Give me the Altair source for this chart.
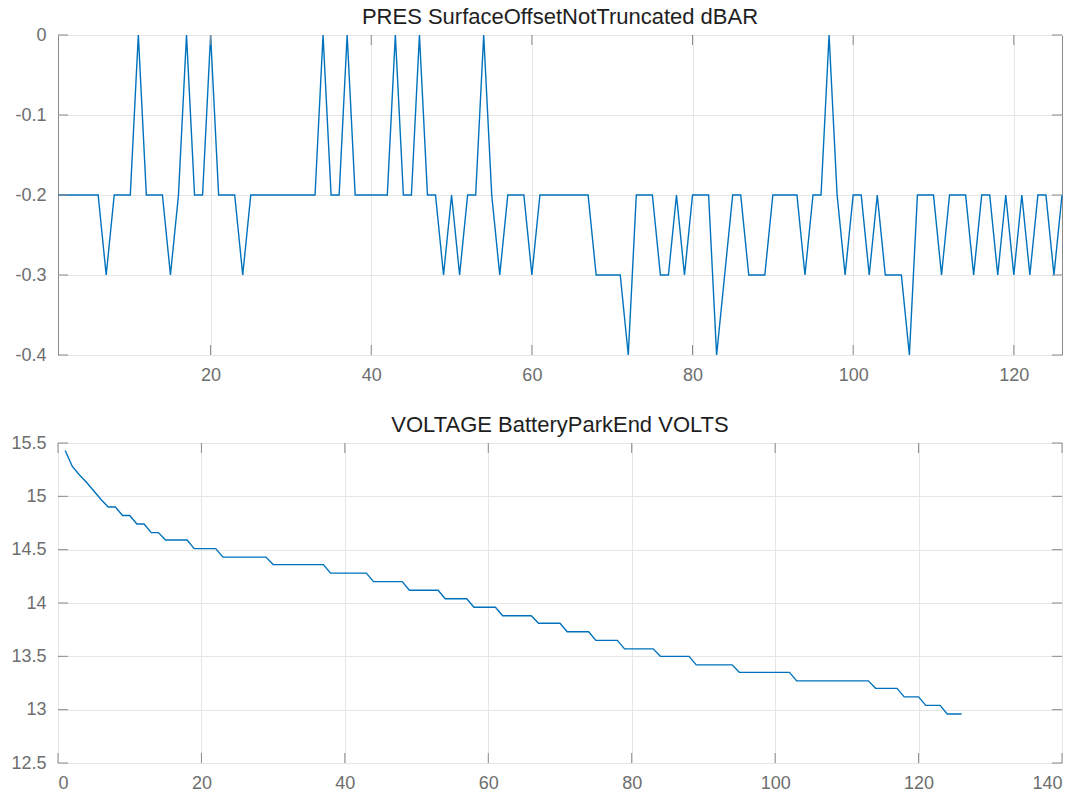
import altair as alt
import pandas as pd

# ---- data ----
pres = [
    -0.2, -0.2, -0.2, -0.2, -0.2, -0.2, -0.3, -0.2, -0.2, -0.2,
    0.0, -0.2, -0.2, -0.2, -0.3, -0.2, 0.0, -0.2, -0.2, 0.0,
    -0.2, -0.2, -0.2, -0.3, -0.2, -0.2, -0.2, -0.2, -0.2, -0.2,
    -0.2, -0.2, -0.2, 0.0, -0.2, -0.2, 0.0, -0.2, -0.2, -0.2,
    -0.2, -0.2, 0.0, -0.2, -0.2, 0.0, -0.2, -0.2, -0.3, -0.2,
    -0.3, -0.2, -0.2, 0.0, -0.2, -0.3, -0.2, -0.2, -0.2, -0.3,
    -0.2, -0.2, -0.2, -0.2, -0.2, -0.2, -0.2, -0.3, -0.3, -0.3,
    -0.3, -0.4, -0.2, -0.2, -0.2, -0.3, -0.3, -0.2, -0.3, -0.2,
    -0.2, -0.2, -0.4, -0.3, -0.2, -0.2, -0.3, -0.3, -0.3, -0.2,
    -0.2, -0.2, -0.2, -0.3, -0.2, -0.2, 0.0, -0.2, -0.3, -0.2,
    -0.2, -0.3, -0.2, -0.3, -0.3, -0.3, -0.4, -0.2, -0.2, -0.2,
    -0.3, -0.2, -0.2, -0.2, -0.3, -0.2, -0.2, -0.3, -0.2, -0.3,
    -0.2, -0.3, -0.2, -0.2, -0.3, -0.2,
]

voltage = [
    15.43, 15.28, 15.20, 15.13, 15.05, 14.97, 14.90, 14.90, 14.82, 14.82,
    14.74, 14.74, 14.66, 14.66, 14.59, 14.59, 14.59, 14.59, 14.51, 14.51,
    14.51, 14.51, 14.43, 14.43, 14.43, 14.43, 14.43, 14.43, 14.43, 14.36,
    14.36, 14.36, 14.36, 14.36, 14.36, 14.36, 14.36, 14.28, 14.28, 14.28,
    14.28, 14.28, 14.28, 14.20, 14.20, 14.20, 14.20, 14.20, 14.12, 14.12,
    14.12, 14.12, 14.12, 14.04, 14.04, 14.04, 14.04, 13.96, 13.96, 13.96,
    13.96, 13.88, 13.88, 13.88, 13.88, 13.88, 13.81, 13.81, 13.81, 13.81,
    13.73, 13.73, 13.73, 13.73, 13.65, 13.65, 13.65, 13.65, 13.57, 13.57,
    13.57, 13.57, 13.57, 13.50, 13.50, 13.50, 13.50, 13.50, 13.42, 13.42,
    13.42, 13.42, 13.42, 13.42, 13.35, 13.35, 13.35, 13.35, 13.35, 13.35,
    13.35, 13.35, 13.27, 13.27, 13.27, 13.27, 13.27, 13.27, 13.27, 13.27,
    13.27, 13.27, 13.27, 13.20, 13.20, 13.20, 13.20, 13.12, 13.12, 13.12,
    13.04, 13.04, 13.04, 12.96, 12.96, 12.96,
]

top_title = "PRES SurfaceOffsetNotTruncated dBAR"
bottom_title = "VOLTAGE BatteryParkEnd VOLTS"

top_xdomain = [1, 126]
top_xticks = [20, 40, 60, 80, 100, 120]
top_ydomain = [-0.4, 0]
top_yticks = [-0.4, -0.3, -0.2, -0.1, 0]

bot_xdomain = [0, 140]
bot_xticks = [0, 20, 40, 60, 80, 100, 120, 140]
bot_ydomain = [12.5, 15.5]
bot_yticks = [12.5, 13, 13.5, 14, 14.5, 15, 15.5]

W, H = 1004, 320
TICK = 10
LINE_COLOR = "#0072BD"
BOX = "#8a8a8a"
FONT = "Liberation Sans"


def panel(yvals, xdom, xt, ydom, yt, title):
    df = pd.DataFrame({"x": list(range(1, len(yvals) + 1)), "y": yvals})
    xs = alt.Scale(domain=xdom, nice=False, zero=False)
    ys = alt.Scale(domain=ydom, nice=False, zero=False)
    xaxis = alt.Axis(values=xt, title=None, labelExpr="'' + datum.value",
                     labelPadding=11, minExtent=30, maxExtent=30)
    yaxis = alt.Axis(values=yt, title=None, labelExpr="'' + datum.value",
                     labelPadding=12, minExtent=48, maxExtent=48)
    line = alt.Chart(df).mark_line(color=LINE_COLOR, strokeWidth=1.4).encode(
        x=alt.X("x:Q", scale=xs, axis=xaxis),
        y=alt.Y("y:Q", scale=ys, axis=yaxis),
    )
    ydf = pd.DataFrame({"y": yt})
    xdf = pd.DataFrame({"x": xt})
    lt = alt.Chart(ydf).mark_rule(color=BOX, strokeWidth=1).encode(
        y=alt.Y("y:Q", scale=ys, axis=yaxis), x=alt.value(0), x2=alt.value(TICK))
    rt = alt.Chart(ydf).mark_rule(color=BOX, strokeWidth=1).encode(
        y=alt.Y("y:Q", scale=ys, axis=yaxis), x=alt.value(W - TICK), x2=alt.value(W))
    bt = alt.Chart(xdf).mark_rule(color=BOX, strokeWidth=1).encode(
        x=alt.X("x:Q", scale=xs, axis=xaxis), y=alt.value(H - TICK), y2=alt.value(H))
    tt = alt.Chart(xdf).mark_rule(color=BOX, strokeWidth=1).encode(
        x=alt.X("x:Q", scale=xs, axis=xaxis), y=alt.value(0), y2=alt.value(TICK))
    return alt.layer(line, lt, rt, bt, tt).properties(
        width=W, height=H,
        title=alt.TitleParams(title, fontSize=22, font=FONT, fontWeight="normal",
                              color="#1e1e1e", offset=-3, anchor="middle",
                              frame="group"),
    )


top = panel(pres, top_xdomain, top_xticks, top_ydomain, top_yticks, top_title)
bottom = panel(voltage, bot_xdomain, bot_xticks, bot_ydomain, bot_yticks, bottom_title)

chart = alt.vconcat(top, bottom, spacing=27).properties(
    padding={"left": 9, "top": 5, "right": 0, "bottom": 0},
    background="white",
).configure_view(
    stroke=BOX, strokeWidth=1
).configure_axis(
    domain=False, ticks=False, tickSize=0,
    labelFont=FONT, labelFontSize=18, labelColor="#6e6e6e",
    gridColor="#e6e6e6", gridWidth=1,
)

chart.save("out.html", embed_options={"renderer": "svg", "actions": False})
